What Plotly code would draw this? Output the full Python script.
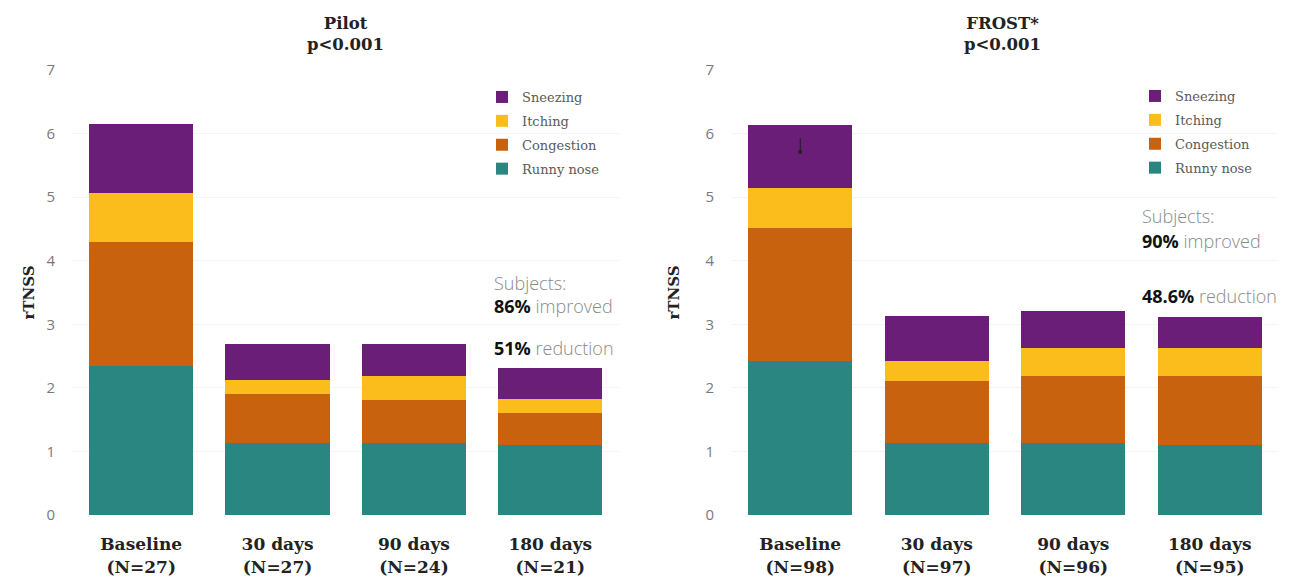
import plotly.graph_objects as go

categories = ["Baseline<br>(N=27)", "30 days<br>(N=27)", "90 days<br>(N=24)", "180 days<br>(N=21)"]
categories_frost = ["Baseline<br>(N=98)", "30 days<br>(N=97)", "90 days<br>(N=96)", "180 days<br>(N=95)"]

series_names = ["Runny nose", "Congestion", "Itching", "Sneezing"]
colors = ["#2a8680", "#c8620f", "#fbbd1c", "#6b1e77"]

pilot_runny = [2.34, 1.13, 1.13, 1.10]
pilot_congestion = [1.95, 0.77, 0.68, 0.50]
pilot_itching = [0.77, 0.22, 0.38, 0.22]
pilot_sneezing = [1.09, 0.57, 0.50, 0.49]

frost_runny = [2.42, 1.13, 1.13, 1.10]
frost_congestion = [2.09, 0.98, 1.06, 1.09]
frost_itching = [0.63, 0.31, 0.44, 0.44]
frost_sneezing = [0.99, 0.71, 0.58, 0.48]

frost_marker_y = [5.71]
frost_marker_err = [0.22]

y_ticks = [0, 1, 2, 3, 4, 5, 6, 7]

pilot = [pilot_runny, pilot_congestion, pilot_itching, pilot_sneezing]
frost = [frost_runny, frost_congestion, frost_itching, frost_sneezing]

SERIF = "DejaVu Serif"
SANS = "Open Sans"

# page has an 8px body margin; work in page pixels and convert
OFF = 8
W, H = 1291 - OFF, 577 - OFF
PLOT_TOP, PLOT_BOT = 70, 515  # page pixels


def px(x):
    return (x - OFF) / W


def py(y):
    return (PLOT_BOT - y) / (PLOT_BOT - PLOT_TOP)


fig = go.Figure()
for i, name in enumerate(series_names):
    fig.add_trace(go.Bar(x=categories, y=pilot[i], name=name, marker_color=colors[i],
                         marker_line_width=0, xaxis="x", yaxis="y", legend="legend",
                         legendgroup="p" + name, legendrank=10 - i))
for i, name in enumerate(series_names):
    fig.add_trace(go.Bar(x=categories_frost, y=frost[i], name=name, marker_color=colors[i],
                         marker_line_width=0, xaxis="x2", yaxis="y2", legend="legend2",
                         legendgroup="f" + name, legendrank=10 - i))

fig.add_trace(go.Scatter(x=[categories_frost[0]], y=frost_marker_y, mode="markers",
                         marker=dict(color="#222", size=4),
                         error_y=dict(type="data", array=frost_marker_err, arrayminus=[0],
                                      color="#222", thickness=1.2, width=0),
                         showlegend=False, xaxis="x2", yaxis="y2"))

axis_common = dict(range=[0, 7], tickvals=y_ticks, showgrid=True, gridcolor="#f4f4f4",
                   zeroline=False, showline=False, ticks="outside", ticklen=14,
                   tickcolor="rgba(0,0,0,0)", automargin=False,
                   tickfont=dict(family=SANS, size=15, color="#7a7a7a"))
xaxis_common = dict(showline=False, showgrid=False, ticks="outside", ticklen=14,
                    tickcolor="rgba(0,0,0,0)", automargin=False,
                    tickfont=dict(family=SERIF, size=17, color="#222", weight="bold"),
                    range=[-0.5, 3.5])
ytitle_font = dict(family=SERIF, size=15, color="#222", weight="bold")

fig.update_layout(
    width=W, height=H,
    barmode="stack", bargap=0.235,
    plot_bgcolor="white", paper_bgcolor="white",
    margin=dict(l=0, r=0, t=PLOT_TOP - OFF, b=H - (PLOT_BOT - OFF)),
    xaxis=dict(domain=[px(73), px(618.5)], anchor="y", **xaxis_common),
    xaxis2=dict(domain=[px(732), px(1278)], anchor="y2", **xaxis_common),
    yaxis=dict(anchor="x", title=dict(text="rTNSS", font=ytitle_font, standoff=8), **axis_common),
    yaxis2=dict(anchor="x2", title=dict(text="rTNSS", font=ytitle_font, standoff=22), **axis_common),
    legend=dict(x=px(482), y=py(82), xanchor="left", yanchor="top",
                traceorder="grouped", tracegroupgap=4,
                font=dict(family=SERIF, size=13, color="#5a5a5a"), bgcolor="rgba(0,0,0,0)"),
    legend2=dict(x=px(1135), y=py(81), xanchor="left", yanchor="top",
                 traceorder="grouped", tracegroupgap=4,
                 font=dict(family=SERIF, size=13, color="#5a5a5a"), bgcolor="rgba(0,0,0,0)"),
    showlegend=True,
)

titles = [("<b>Pilot</b><br><b>p<0.001</b>", 345), ("<b>FROST*</b><br><b>p<0.001</b>", 1002)]
for t, x in titles:
    fig.add_annotation(text=t, xref="paper", yref="paper", x=px(x), y=py(12),
                       xanchor="center", yanchor="top", showarrow=False, align="center",
                       font=dict(family=SERIF, size=16.5, color="#222"))

side = [
    ("Subjects:", 492, 283),
    ("<b style='color:#111'>86%</b> improved", 492, 306),
    ("<b style='color:#111'>51%</b> reduction", 492, 348),
    ("Subjects:", 1140, 216),
    ("<b style='color:#111'>90%</b> improved", 1140, 241),
    ("<b style='color:#111'>48.6%</b> reduction", 1140, 296),
]
for t, x, y in side:
    fig.add_annotation(text=t, xref="paper", yref="paper", x=px(x), y=py(y),
                       xanchor="left", yanchor="middle", showarrow=False,
                       font=dict(family=SANS, size=18, color="#8a8a8a", weight=300))

fig.write_html("out.html")
